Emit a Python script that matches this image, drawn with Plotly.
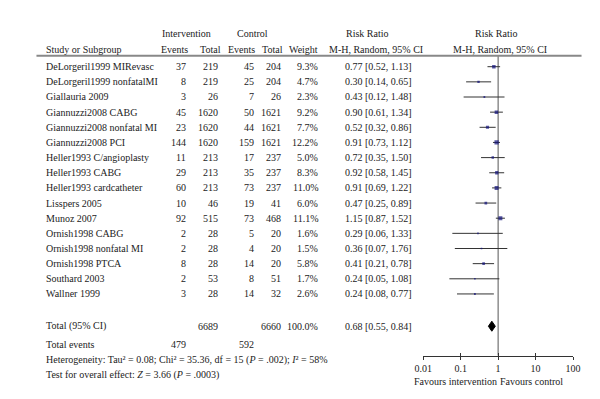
import plotly.graph_objects as go

studies = ["DeLorgeril1999 MIRevasc", "DeLorgeril1999 nonfatalMI", "Giallauria 2009",
           "Giannuzzi2008 CABG", "Giannuzzi2008 nonfatal MI", "Giannuzzi2008 PCI",
           "Heller1993 C/angioplasty", "Heller1993 CABG", "Heller1993 cardcatheter",
           "Lisspers 2005", "Munoz 2007", "Ornish1998 CABG", "Ornish1998 nonfatal MI",
           "Ornish1998 PTCA", "Southard 2003", "Wallner 1999"]
int_events = [37, 8, 3, 45, 23, 144, 11, 29, 60, 10, 92, 2, 2, 8, 2, 3]
int_total = [219, 219, 26, 1620, 1620, 1620, 213, 213, 213, 46, 515, 28, 28, 28, 53, 28]
ctl_events = [45, 25, 7, 50, 44, 159, 17, 35, 73, 19, 73, 5, 4, 14, 8, 14]
ctl_total = [204, 204, 26, 1621, 1621, 1621, 237, 237, 237, 41, 468, 20, 20, 20, 51, 32]
weights = [9.3, 4.7, 2.3, 9.2, 7.7, 12.2, 5.0, 8.3, 11.0, 6.0, 11.1, 1.6, 1.5, 5.8, 1.7, 2.6]
rr = [0.77, 0.30, 0.43, 0.90, 0.52, 0.91, 0.72, 0.92, 0.91, 0.47, 1.15, 0.29, 0.36, 0.41, 0.24, 0.24]
lo = [0.52, 0.14, 0.12, 0.61, 0.32, 0.73, 0.35, 0.58, 0.69, 0.25, 0.87, 0.06, 0.07, 0.21, 0.05, 0.08]
hi = [1.13, 0.65, 1.48, 1.34, 0.86, 1.12, 1.50, 1.45, 1.22, 0.89, 1.52, 1.33, 1.76, 0.78, 1.08, 0.77]

total_int_n = 6689
total_ctl_n = 6660
total_int_events = 479
total_ctl_events = 592
total_weight = "100.0%"
total_rr = 0.68
total_lo = 0.55
total_hi = 0.84

tick_vals = [0.01, 0.1, 1, 10, 100]
tick_text = ["0.01", "0.1", "1", "10", "100"]

FONT = "Liberation Serif"
TXT = "#222222"
W, H = 600, 399

rows = list(range(len(studies)))
total_row = 17.13

def px(x):
    return x / W

def py(y):
    return (H - y) / H

fig = go.Figure()

# confidence interval lines
lx, ly = [], []
for i, (a, b) in enumerate(zip(lo, hi)):
    lx += [a, b, None]
    ly += [i, i, None]
fig.add_trace(go.Scatter(x=lx, y=ly, mode="lines", line=dict(color="#333333", width=1),
                         hoverinfo="skip", showlegend=False))
# study squares sized by weight
fig.add_trace(go.Scatter(x=rr, y=rows, mode="markers",
                         marker=dict(symbol="square", color="#10107a",
                                     size=[1.2 + 0.25 * w for w in weights], line=dict(width=0)),
                         showlegend=False))
# pooled diamond
dh = 0.33
fig.add_trace(go.Scatter(x=[total_lo, total_rr, total_hi, total_rr, total_lo],
                         y=[total_row, total_row - dh, total_row, total_row + dh, total_row],
                         mode="lines", fill="toself", fillcolor="black",
                         line=dict(color="black", width=1), showlegend=False))
# invisible trace so the overlay axis (upward ticks) is drawn
fig.add_trace(go.Scatter(x=[1], y=[0], xaxis="x2", mode="markers",
                         marker=dict(opacity=0), showlegend=False, hoverinfo="skip"))

ann = []

def t(x, y, text, xanchor="left", yref="y"):
    ann.append(dict(x=px(x), xref="paper", y=(y if yref == "y" else py(y)), yref=yref,
                    text=text, showarrow=False, xanchor=xanchor, yanchor="middle",
                    font=dict(family=FONT, size=10, color=TXT)))

t(174.5, 25.7, "Intervention", "center", "paper")
t(241.7, 25.7, "Control", "center", "paper")
t(359.7, 25.7, "Risk Ratio", "center", "paper")
t(493, 25.7, "Risk Ratio", "center", "paper")
t(27.7, 41.7, "Study or Subgroup", "left", "paper")
t(161.7, 41.7, "Events", "center", "paper")
t(199, 41.7, "Total", "center", "paper")
t(230.8, 41.7, "Events", "center", "paper")
t(263, 41.7, "Total", "center", "paper")
t(311, 41.7, "Weight", "right", "paper")
t(368.7, 41.7, "M-H, Random, 95% CI", "center", "paper")
t(496, 41.7, "M-H, Random, 95% CI", "center", "paper")

for i in rows:
    t(27.7, i, studies[i], "left")
    t(176, i, str(int_events[i]), "right")
    t(209, i, str(int_total[i]), "right")
    t(245.6, i, str(ctl_events[i]), "right")
    t(273, i, str(ctl_total[i]), "right")
    t(311, i, f"{weights[i]:.1f}%", "right")
    t(408, i, f"{rr[i]:.2f} [{lo[i]:.2f}, {hi[i]:.2f}]", "right")

t(27.7, total_row, "Total (95% CI)", "left")
t(209, total_row, str(total_int_n), "right")
t(273, total_row, str(total_ctl_n), "right")
t(311, total_row, total_weight, "right")
t(408, total_row, f"{total_rr:.2f} [{total_lo:.2f}, {total_hi:.2f}]", "right")

t(27.7, 336.7, "Total events", "left", "paper")
t(176, 336.7, str(total_int_events), "right", "paper")
t(245.6, 336.7, str(total_ctl_events), "right", "paper")
t(27.7, 351.7, "Heterogeneity: Tau² = 0.08; Chi² = 35.36, df = 15 (<i>P</i> = .002); <i>I</i>² = 58%", "left", "paper")
t(27.7, 366.7, "Test for overall effect: <i>Z</i> = 3.66 (<i>P</i> = .0003)", "left", "paper")
t(450, 373.3, "Favours intervention", "center", "paper")
t(529, 373.3, "Favours control", "center", "paper")

x0p, x1p = px(417.3), px(571.3)
y_bot, y_top = py(347.5), py(47.7)

fig.update_layout(
    width=W, height=H, margin=dict(l=0, r=0, t=0, b=0),
    paper_bgcolor="white", plot_bgcolor="white",
    showlegend=False,
    annotations=ann,
    xaxis=dict(type="log", range=[-2, 2], domain=[x0p, x1p], anchor="y",
               showgrid=False, zeroline=False, showline=True, linecolor="#333333", linewidth=1,
               ticks="outside", ticklen=3, tickcolor="#333333", tickwidth=1,
               tickvals=tick_vals, ticktext=tick_text,
               tickfont=dict(family=FONT, size=10, color=TXT)),
    xaxis2=dict(type="log", range=[-2, 2], domain=[x0p, x1p], anchor="y", overlaying="x",
                side="bottom", showgrid=False, zeroline=False, showline=False,
                ticks="inside", ticklen=3, tickcolor="#333333", tickwidth=1,
                tickvals=tick_vals, showticklabels=False),
    yaxis=dict(range=[(347.5 - 58.7) / 15.15, (47.7 - 58.7) / 15.15], domain=[y_bot, y_top],
               visible=False, showgrid=False, zeroline=False),
    shapes=[
        dict(type="line", xref="paper", yref="paper", x0=px(20), x1=px(580), y0=y_top, y1=y_top,
             line=dict(color="#888888", width=2)),
        dict(type="line", xref="x", yref="paper", x0=1, x1=1, y0=y_bot, y1=y_top,
             line=dict(color="#555555", width=1), layer="below"),
    ],
)

fig.write_html("out.html")
